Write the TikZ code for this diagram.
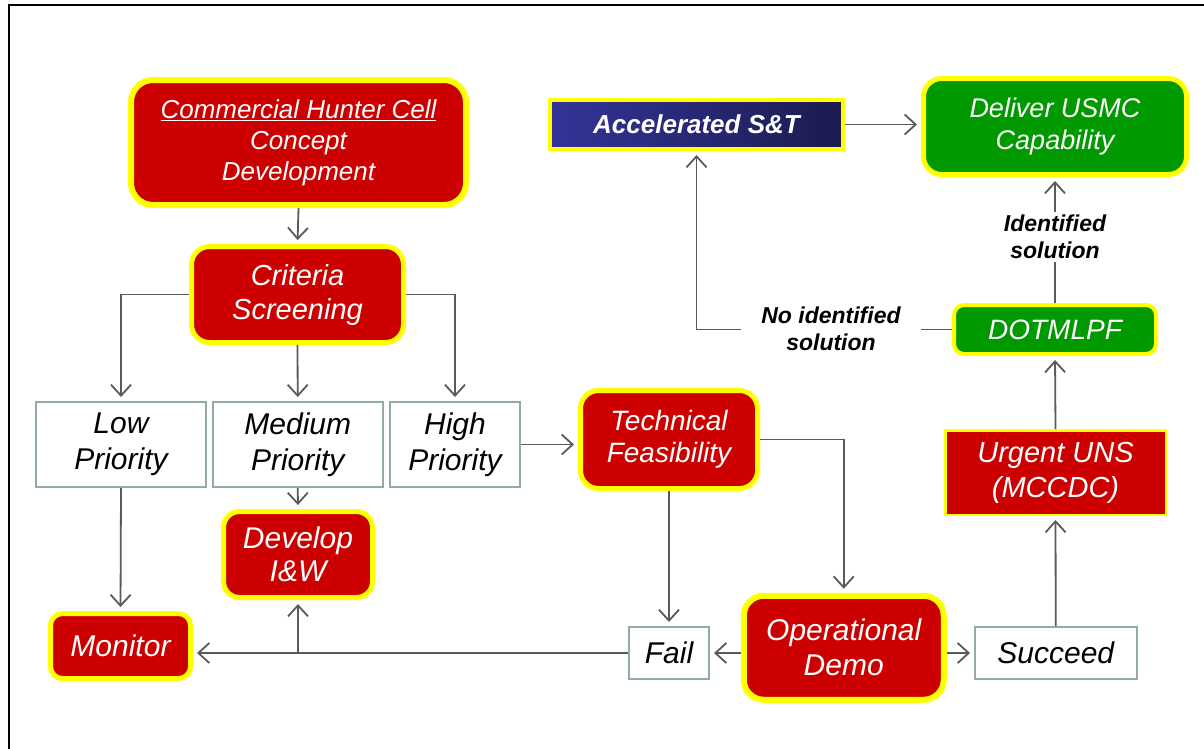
\documentclass[tikz,border=0pt]{standalone}
\usepackage{fontspec}
\setmainfont{Liberation Sans}
\usetikzlibrary{arrows.meta}
\definecolor{myred}{HTML}{CC0000}
\definecolor{mygreen}{HTML}{009900}
\definecolor{myyellow}{HTML}{FFFF00}
\definecolor{navyL}{HTML}{343499}
\definecolor{navyR}{HTML}{1B1B4F}
\definecolor{wborder}{HTML}{93AAAA}
\definecolor{arrowgray}{HTML}{5A5A5A}
\newcommand\myfs[2]{\fontsize{#1}{#2}\selectfont}
\tikzset{
  base/.style={inner sep=0pt, align=center},
  redbox/.style={base, fill=myred, draw=myyellow, text=white, rounded corners=#1},
  redbox/.default=18pt,
  greenbox/.style={base, fill=mygreen, draw=myyellow, text=white, rounded corners=#1},
  greenbox/.default=18pt,
  wbox/.style={base, fill=white, draw=wborder, line width=2pt, text=black},
  conn/.style={draw=arrowgray, line width=1.8pt, -{Straight Barb[length=11pt,width=20pt]}, shorten >=4pt},
  plain/.style={draw=arrowgray, line width=1.8pt},
  lab/.style={base, fill=white, text=black, font=\bfseries\itshape\myfs{23}{27}}
}
\begin{document}
\begin{tikzpicture}[x=1pt,y=-1pt]
\useasboundingbox (0,0) rectangle (1204,748);
\fill[white] (0,0) rectangle (1204,748);
\draw[line width=2pt] (9,749) -- (9,5) -- (1205,5);

% nodes
\node[redbox=22pt, line width=6pt, minimum width=335pt, minimum height=125pt, font=\itshape\myfs{26}{31}]
  (com) at (298.5,142.5) {\underline{Commercial Hunter Cell}\\Concept\\Development};
\node[redbox, line width=5pt, minimum width=212pt, minimum height=96pt, font=\itshape\myfs{29}{34}]
  (crit) at (297.5,294.5) {\rule{0pt}{4pt}Criteria\\Screening};
\node[wbox, minimum width=170pt, minimum height=85pt, font=\itshape\myfs{30}{36}]
  (low) at (121,444.5) {\rule{0pt}{4pt}Low\\Priority};
\node[wbox, minimum width=170.5pt, minimum height=85pt, font=\itshape\myfs{30}{36}]
  (med) at (297.75,444.5) {\rule{0pt}{4pt}Medium\\Priority};
\node[wbox, minimum width=130pt, minimum height=85pt, font=\itshape\myfs{30}{36}]
  (high) at (455,444.5) {\rule{0pt}{4pt}High\\Priority};
\node[redbox, line width=5pt, minimum width=177pt, minimum height=98pt, font=\itshape\myfs{28}{32}]
  (tech) at (669,439.5) {Technical\\Feasibility};
\node[redbox=20pt, line width=6pt, minimum width=200pt, minimum height=104pt, font=\itshape\myfs{30}{35}]
  (op) at (843.75,647.75) {Operational\\Demo};
\node[wbox, minimum width=80pt, minimum height=52pt, font=\itshape\myfs{30}{36}]
  (fail) at (669,653) {Fail};
\node[wbox, minimum width=161.5pt, minimum height=52pt, font=\itshape\myfs{30}{36}]
  (succ) at (1055.75,653) {Succeed};
\node[base, fill=myred, draw=myyellow, text=white, line width=2.5pt, minimum width=220.5pt, minimum height=84.5pt, font=\itshape\myfs{29}{35}]
  (urg) at (1055.5,472.5) {Urgent UNS\\(MCCDC)};
\node[greenbox=10pt, line width=4pt, minimum width=202pt, minimum height=49pt, font=\itshape\myfs{28}{33}]
  (dot) at (1055,329.5) {DOTMLPF};
\node[base, left color=navyL, right color=navyR, draw=myyellow, text=white, line width=4pt, minimum width=293pt, minimum height=49pt, font=\bfseries\itshape\myfs{26}{31}]
  (acc) at (696.5,124.5) {Accelerated S\&T};
\node[greenbox, line width=5pt, minimum width=263pt, minimum height=96pt, font=\itshape\myfs{27}{32}]
  (del) at (1055,126.5) {Deliver USMC\\Capability};
\node[redbox=16pt, line width=5pt, minimum width=149pt, minimum height=86pt, font=\itshape\myfs{30}{33}]
  (dev) at (298,554.5) {Develop\\I\&W};
\node[redbox=12pt, line width=5pt, minimum width=140pt, minimum height=65pt, font=\itshape\myfs{30}{36}]
  (mon) at (120.5,646) {Monitor};

% labels
\node[lab, inner xsep=20pt, inner ysep=2pt] (nolab) at (831,329) {No identified\\solution};
\node[lab, inner xsep=4pt, inner ysep=3pt] (idlab) at (1055,237) {Identified\\solution};

% connectors
\draw[conn] (com.south) -- (crit.north);
\draw[conn] (crit.west) -| (low.north);
\draw[conn] (crit.south) -- (med.north);
\draw[conn] (crit.east) -| (high.north);
\draw[conn] (high.east) -- (high.east -| tech.west);
\draw[conn] (tech.east) -| (op.north);
\draw[conn] (tech.south) -- (fail.north);
\draw[conn] (fail.east -| op.west) -- (fail.east);
\draw[conn] (succ.west |- fail.east) ++(-27,0) coordinate (opr) -- (succ.west |- fail.east);
\draw[conn] (succ.north) -- (urg.south);
\draw[conn] (urg.north) -- (dot.south);
\draw[plain] (dot.north) -- (idlab.south);
\draw[conn] (idlab.north) -- (del.south);
\draw[plain] (dot.west) -- (dot.west -| nolab.east);
\draw[conn] (nolab.west |- dot.west) -| (acc.south);
\draw[conn] (acc.east) -- (acc.east -| del.west);
\draw[conn] (low.south) -- (mon.north);
\draw[conn] (med.south) -- (dev.north);
\draw[conn] (fail.west) -- (fail.west -| mon.east);
\coordinate (br) at (dev.south |- fail.west);
\draw[conn] (br) -- (dev.south);
\end{tikzpicture}
\end{document}
